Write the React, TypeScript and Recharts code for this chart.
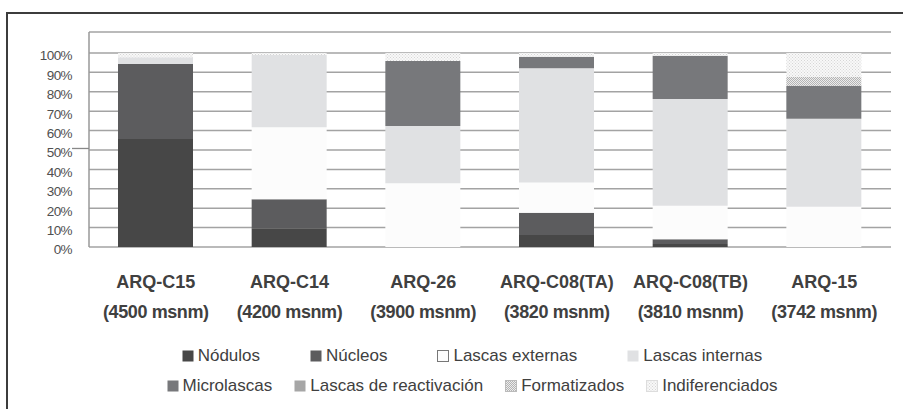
import React from 'react';
import { BarChart, Bar, XAxis, YAxis, CartesianGrid, Legend } from 'recharts';

const sites = ['ARQ-C15', 'ARQ-C14', 'ARQ-26', 'ARQ-C08(TA)', 'ARQ-C08(TB)', 'ARQ-15'];
const altitudes = ['(4500 msnm)', '(4200 msnm)', '(3900 msnm)', '(3820 msnm)', '(3810 msnm)', '(3742 msnm)'];
const nodulos = [55.7, 9.6, 0, 6.2, 1.5, 0];
const nucleos = [38.6, 15, 0, 11.5, 2.5, 0];
const lascasExternas = [0, 37.1, 32.8, 15.6, 17.3, 20.8];
const lascasInternas = [3.5, 37.3, 29.6, 58.8, 55, 45.3];
const microlascas = [0, 0, 33.5, 6, 22.3, 17];
const lascasReactivacion = [0, 0, 0, 0, 0, 0];
const formatizados = [0, 0, 0, 0, 0, 4.7];
const indiferenciados = [2.2, 1, 4.1, 1.9, 1.4, 12.2];
const yTicks = [0, 10, 20, 30, 40, 50, 60, 70, 80, 90, 100];

const seriesNames = ['Nódulos', 'Núcleos', 'Lascas externas', 'Lascas internas', 'Microlascas', 'Lascas de reactivación', 'Formatizados', 'Indiferenciados'];
const seriesValues = [nodulos, nucleos, lascasExternas, lascasInternas, microlascas, lascasReactivacion, formatizados, indiferenciados];

const fills = ['#474747', '#5c5c5e', '#fcfcfc', '#e0e1e3', '#77787b', '#a6a6a6', 'url(#patForm)', 'url(#patIndif)'];
const legendStrokes = ['none', 'none', '#777', 'none', 'none', 'none', '#bbb', '#ddd'];

const FONT = '"Liberation Sans", Arial, sans-serif';

const data = sites.map((site, i) => {
  const row: Record<string, any> = { site, alt: altitudes[i] };
  seriesValues.forEach((vals, k) => {
    row['s' + k] = vals[i];
  });
  return row;
});

const XTick = (props: any) => {
  const { x, y, payload } = props;
  const idx = payload && payload.index != null ? payload.index : props.index;
  return (
    <g>
      <text x={x} y={y} textAnchor="middle" fill="#404040" fontWeight="bold" fontFamily={FONT} fontSize={18}>
        <tspan x={x} dy={41}>{payload.value}</tspan>
        <tspan x={x} dy={30} letterSpacing={-0.4}>{altitudes[idx]}</tspan>
      </text>
    </g>
  );
};

const YTick = (props: any) => {
  const { x, y, payload } = props;
  return (
    <g>
      {payload.value === 50 && (
        <line x1={x} x2={x + 17} y1={y - 1.5} y2={y - 1.5} stroke="#888" strokeWidth={1.3} />
      )}
      <text x={x} y={y + 7.4} textAnchor="end" fill="#505050" fontSize={13.5} letterSpacing={-0.6} fontFamily={FONT}>
        {payload.value + '%'}
      </text>
    </g>
  );
};

const LegendItem = ({ k }: { k: number }) => (
  <div style={{ display: 'flex', alignItems: 'center', whiteSpace: 'nowrap' }}>
    <svg width={12} height={12} style={{ marginRight: 4 }}>
      <rect x={0.5} y={0.5} width={11} height={11} fill={fills[k]} stroke={legendStrokes[k]} strokeWidth={1} />
    </svg>
    <span>{seriesNames[k]}</span>
  </div>
);

const LegendContent = () => (
  <div style={{ width: 903, height: 82, fontFamily: FONT, fontSize: 17, color: '#404040', paddingTop: 14, boxSizing: 'border-box', paddingLeft: 41 }}>
    <div style={{ display: 'flex', justifyContent: 'center', gap: 50, height: 30, alignItems: 'center' }}>
      {[0, 1, 2, 3].map((k) => <LegendItem key={k} k={k} />)}
    </div>
    <div style={{ display: 'flex', justifyContent: 'center', gap: 22, height: 30, alignItems: 'center' }}>
      {[4, 5, 6, 7].map((k) => <LegendItem key={k} k={k} />)}
    </div>
  </div>
);

export default function App() {
  return (
    <div style={{ position: 'absolute', left: 0, top: 0, width: 903, height: 409, overflow: 'hidden', background: '#fff' }}>
      <BarChart
        width={903}
        height={409}
        data={data}
        margin={{ top: 32, right: 12, left: 0, bottom: 0 }}
        barSize={75}
      >
        <defs>
          <pattern id="patForm" width={2} height={2} patternUnits="userSpaceOnUse">
            <rect x={0} y={0} width={2} height={2} fill="#ececec" />
            <rect x={0} y={0} width={1} height={1} fill="#b4b4b4" />
            <rect x={1} y={1} width={1} height={1} fill="#b4b4b4" />
          </pattern>
          <pattern id="patIndif" width={3} height={3} patternUnits="userSpaceOnUse">
            <rect x={0} y={0} width={3} height={3} fill="#f8f8f8" />
            <rect x={0} y={0} width={1} height={1} fill="#d6d6d6" />
            <rect x={1.5} y={1.5} width={1} height={1} fill="#d6d6d6" />
          </pattern>
        </defs>
        <CartesianGrid vertical={false} stroke="#a3a3a3" strokeWidth={1.5} />
        <XAxis
          dataKey="site"
          height={80}
          interval={0}
          tickLine={false}
          axisLine={false}
          tickSize={0}
          tickMargin={0}
          tick={<XTick />}
        />
        <YAxis
          width={89}
          domain={[0, 110.8]}
          ticks={yTicks}
          interval={0}
          allowDataOverflow
          tickLine={false}
          tickSize={0}
          tickMargin={17}
          axisLine={{ stroke: '#999', strokeWidth: 1.5 }}
          tick={<YTick />}
        />
        <Legend verticalAlign="bottom" height={82} content={<LegendContent />} />
        {seriesNames.map((name, k) => (
          <Bar
            key={name}
            dataKey={'s' + k}
            name={name}
            stackId="a"
            fill={fills[k]}
            isAnimationActive={false}
          />
        ))}
      </BarChart>
      <div
        style={{
          position: 'absolute',
          left: 6,
          top: 12,
          width: 1000,
          height: 600,
          borderLeft: '2.5px solid #3c3c3c',
          borderTop: '2.5px solid #3c3c3c',
          pointerEvents: 'none',
        }}
      />
    </div>
  );
}
